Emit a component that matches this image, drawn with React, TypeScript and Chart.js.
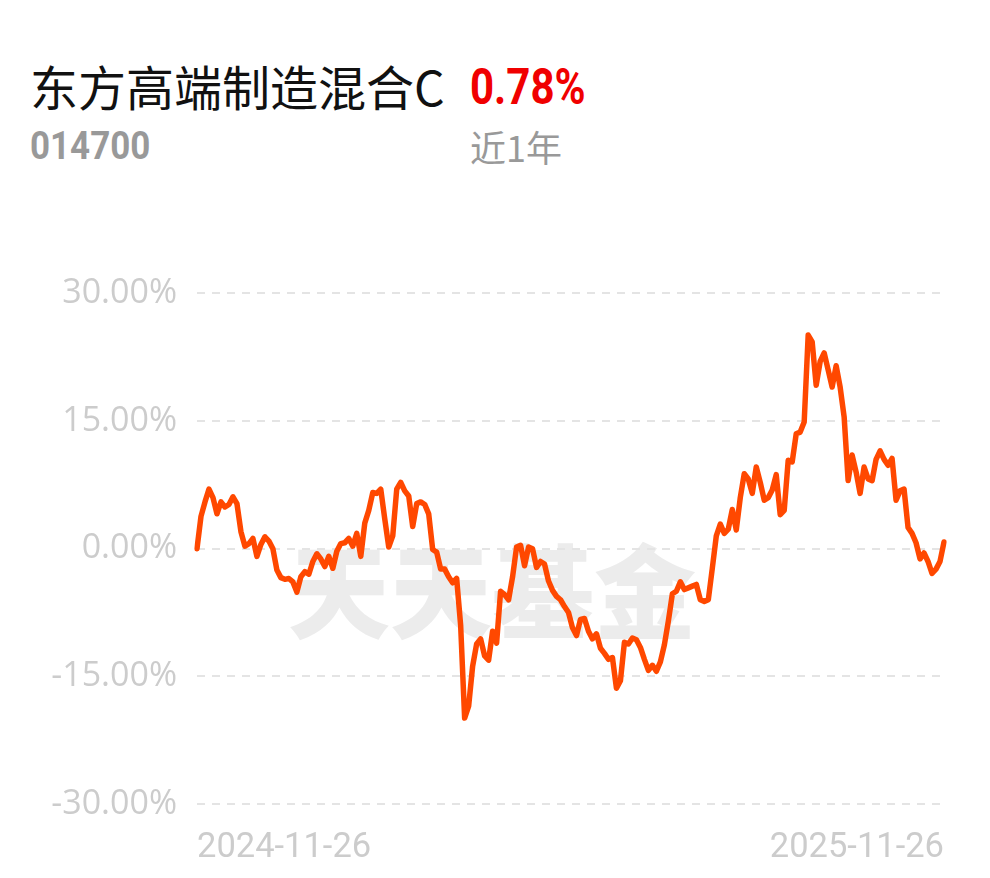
import React, { useEffect, useRef } from "react";
import { Chart, registerables } from "chart.js";

Chart.register(...registerables);

const fundName = "东方高端制造混合C";
const fundCode = "014700";
const periodLabel = "近1年";
const periodReturn = "0.78%";
const startDate = "2024-11-26";
const endDate = "2025-11-26";
const watermark = "天天基金";

const yTicks = [-30, -15, 0, 15, 30];

// cumulative return (%) over the year
const returns = [
  0.0, 3.8, 5.5, 7.0, 6.0, 4.1, 5.5, 4.9, 5.2, 6.1,
  5.3, 2.0, 0.3, 0.6, 1.2, -0.9, 0.5, 1.4, 0.9, 0.0,
  -2.5, -3.4, -3.6, -3.5, -3.9, -5.1, -3.3, -2.7, -3.0, -1.5,
  -0.6, -1.2, -2.1, -0.9, -2.3, -0.3, 0.6, 0.7, 1.2, 0.3,
  1.8, -0.9, 3.0, 4.5, 6.6, 6.5, 7.0, 3.5, 0.2, 1.5,
  7.0, 7.8, 6.8, 6.2, 2.6, 5.3, 5.5, 5.2, 4.1, -0.1,
  -0.4, -2.4, -2.4, -3.3, -4.0, -3.5, -9.0, -19.9, -18.5, -13.8,
  -11.2, -10.6, -12.6, -13.1, -9.7, -11.1, -5.0, -5.4, -6.0, -3.3,
  0.2, 0.4, -2.0, 0.2, 0.0, -2.2, -1.5, -1.8, -3.8, -4.9,
  -5.6, -6.0, -6.8, -7.5, -9.3, -10.2, -8.3, -8.2, -9.7, -10.6,
  -10.0, -11.7, -12.3, -13.0, -12.8, -16.4, -15.5, -11.0, -11.2, -10.5,
  -10.7, -11.6, -13.0, -14.3, -13.7, -14.4, -13.3, -11.3, -8.5, -5.3,
  -5.0, -3.9, -4.8, -4.6, -4.4, -4.2, -6.0, -6.2, -6.0, -2.3,
  1.5, 2.9, 1.8, 2.3, 4.6, 2.2, 6.0, 8.8, 8.2, 6.5,
  9.6, 7.8, 5.7, 6.0, 6.9, 8.7, 4.0, 4.5, 10.4, 10.2,
  13.5, 13.7, 14.9, 25.1, 24.3, 19.2, 22.0, 23.0, 21.0, 19.0,
  21.5, 19.0, 15.5, 8.0, 11.0, 9.0, 6.5, 9.6, 8.2, 8.0,
  10.5, 11.5, 10.5, 9.8, 10.6, 5.7, 6.8, 7.0, 2.5, 1.8,
  0.7, -1.2, -0.5, -1.5, -2.9, -2.4, -1.5, 0.78,
];

export default function App() {
  const canvasRef = useRef<HTMLCanvasElement | null>(null);

  useEffect(() => {
    if (!canvasRef.current) return;
    const n = returns.length;
    const labels = returns.map((_, i) => (i === 0 ? startDate : i === n - 1 ? endDate : ""));
    const chart = new Chart(canvasRef.current, {
      type: "line",
      data: {
        labels,
        datasets: [
          {
            data: returns,
            borderColor: "#ff4800",
            borderWidth: 5.5,
            pointRadius: 0,
            tension: 0,
            fill: false,
            borderJoinStyle: "round",
            borderCapStyle: "round",
          },
        ],
      },
      options: {
        animation: false,
        responsive: true,
        maintainAspectRatio: false,
        layout: { padding: { top: 28, right: 23, left: 0, bottom: 0 } },
        plugins: { legend: { display: false }, tooltip: { enabled: false } },
        scales: {
          x: {
            offset: false,
            grid: { display: false, drawTicks: false },
            border: { display: false },
            afterFit: (s: any) => {
              s.height = 70;
            },
            ticks: {
              autoSkip: false,
              maxRotation: 0,
              minRotation: 0,
              align: "inner",
              padding: 24,
              color: "#cccccc",
              font: { family: "Roboto", size: 34.5 },
              callback: (_v: any, i: number) => (i === 0 || i === n - 1 ? labels[i] : null),
            },
          },
          y: {
            min: -30,
            max: 30,
            afterFit: (s: any) => {
              s.width = 189;
            },
            afterBuildTicks: (s: any) => {
              s.ticks = yTicks.map((v) => ({ value: v }));
            },
            grid: { color: "#e4e4e4", lineWidth: 2, drawTicks: false },
            border: { display: false, dash: [8, 7] },
            ticks: {
              padding: 20,
              color: "#cccccc",
              font: { family: "Open Sans", size: 34 },
              callback: (v: any) => Number(v).toFixed(2) + "%",
            },
          },
        },
      },
    });
    return () => chart.destroy();
  }, []);

  return (
    <div style={{ position: "relative", width: 974, height: 862, background: "#fff", overflow: "hidden" }}>
      <div
        style={{
          position: "absolute",
          left: 22,
          top: 52,
          fontFamily: "'Noto Sans CJK SC', sans-serif",
          fontSize: 48,
          lineHeight: "50px",
          color: "#111",
          whiteSpace: "nowrap",
        }}
      >
        {fundName}
      </div>
      <div
        style={{
          position: "absolute",
          left: 462,
          top: 54,
          fontFamily: "Roboto, sans-serif",
          fontWeight: 700,
          fontSize: 50,
          lineHeight: "50px",
          color: "#f00000",
          transform: "scaleX(0.84)",
          transformOrigin: "left center",
          whiteSpace: "nowrap",
        }}
      >
        {periodReturn}
      </div>
      <div
        style={{
          position: "absolute",
          left: 22,
          top: 118,
          fontFamily: "Roboto, sans-serif",
          fontWeight: 700,
          fontSize: 38,
          lineHeight: "40px",
          color: "#999",
          transform: "scaleX(0.92)",
          transformOrigin: "left center",
          whiteSpace: "nowrap",
        }}
      >
        {fundCode}
      </div>
      <div
        style={{
          position: "absolute",
          left: 462,
          top: 118,
          fontFamily: "'Noto Sans CJK SC', sans-serif",
          fontSize: 36,
          lineHeight: "40px",
          color: "#999",
          whiteSpace: "nowrap",
        }}
      >
        {periodLabel}
      </div>
      <div
        style={{
          position: "absolute",
          left: 280,
          top: 524,
          fontFamily: "'Noto Sans CJK SC', sans-serif",
          fontWeight: 900,
          fontSize: 102,
          lineHeight: "110px",
          color: "#ececec",
          whiteSpace: "nowrap",
        }}
      >
        {watermark}
      </div>
      <div style={{ position: "absolute", left: 0, top: 245, width: 960, height: 621 }}>
        <canvas ref={canvasRef} />
      </div>
    </div>
  );
}
